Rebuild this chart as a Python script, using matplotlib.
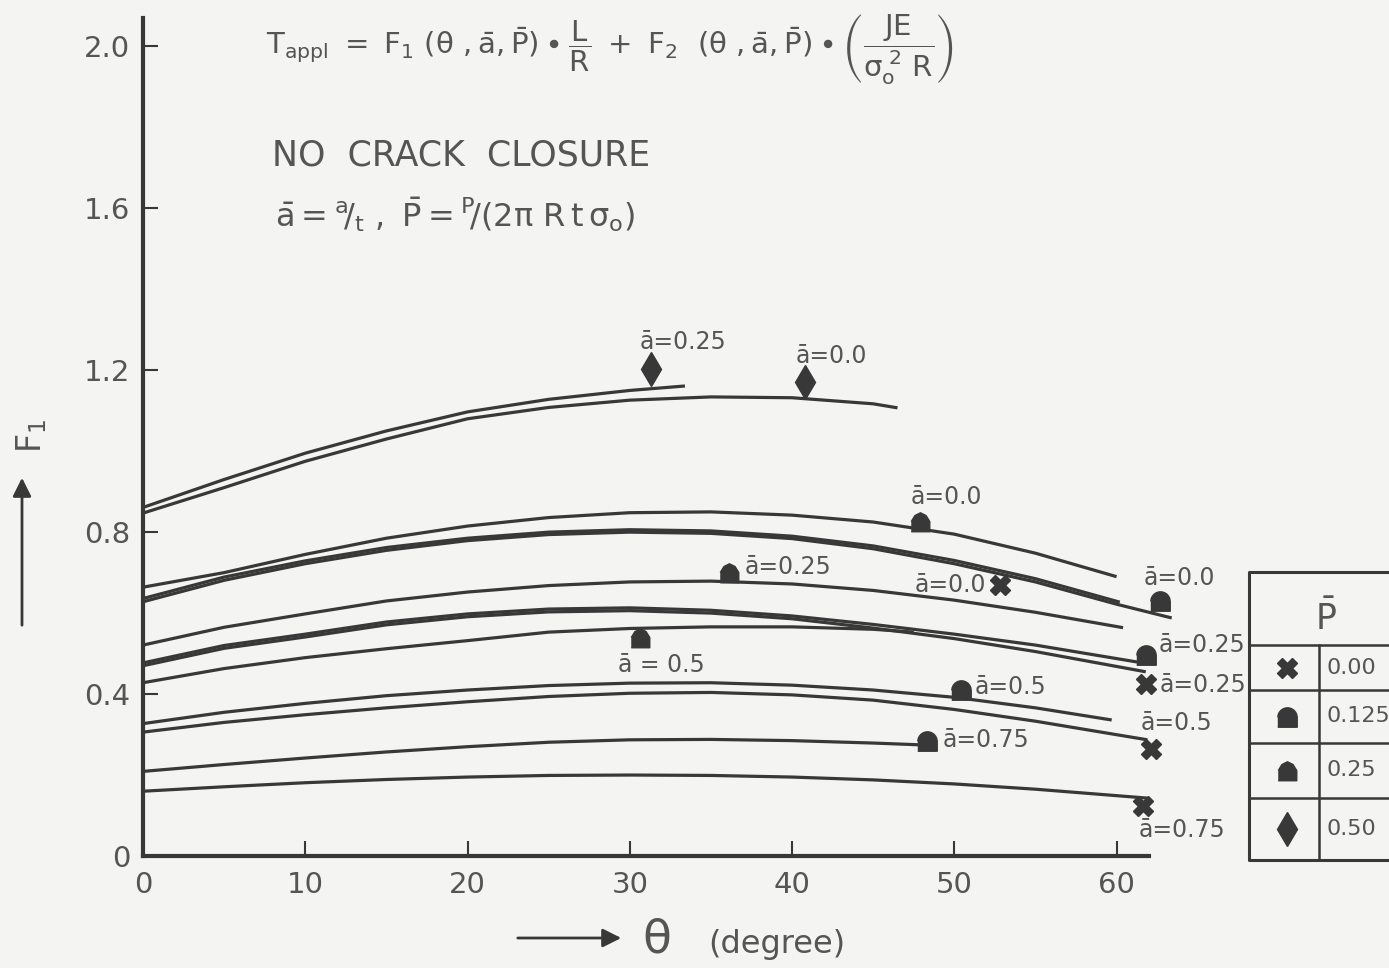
import numpy as np
import matplotlib
matplotlib.use("Agg")
import matplotlib.pyplot as plt

INK = "#383838"
TXT = "#555555"
BG = "#f4f4f2"

plt.rcParams['font.family'] = ['DejaVu Sans']
plt.rcParams['mathtext.default'] = 'regular'

# ---- curves: theta [deg] vs F1 ----
# P = 0.50
th_a25_p50 = [0, 5, 10, 15, 20, 25, 30, 33.4]
f1_a25_p50 = [0.861, 0.930, 0.995, 1.050, 1.097, 1.128, 1.150, 1.161]
th_a00_p50 = [0, 5, 10, 15, 20, 25, 30, 35, 40, 45, 46.5]
f1_a00_p50 = [0.847, 0.910, 0.975, 1.030, 1.080, 1.108, 1.126, 1.134, 1.132, 1.117, 1.107]
# P = 0.25
th_a00_p25 = [0, 5, 10, 15, 20, 25, 30, 35, 40, 45, 50, 55, 60]
f1_a00_p25 = [0.664, 0.700, 0.745, 0.785, 0.815, 0.836, 0.848, 0.850, 0.842, 0.825, 0.795, 0.748, 0.690]
th_a25_p25 = [0, 5, 10, 15, 20, 25, 30, 35, 40, 45, 50, 55, 60.4]
f1_a25_p25 = [0.521, 0.565, 0.598, 0.630, 0.652, 0.668, 0.677, 0.679, 0.672, 0.656, 0.632, 0.602, 0.564]
th_a50_p25 = [0, 5, 10, 15, 20, 25, 30, 35, 40, 45, 47.5]
f1_a50_p25 = [0.428, 0.463, 0.490, 0.512, 0.532, 0.553, 0.562, 0.566, 0.566, 0.560, 0.553]
# P = 0.125
th_a00_p125 = [0, 5, 10, 15, 20, 25, 30, 35, 40, 45, 50, 55, 60, 63.4]
f1_a00_p125 = [0.628, 0.681, 0.722, 0.755, 0.779, 0.794, 0.800, 0.797, 0.784, 0.759, 0.722, 0.677, 0.622, 0.588]
th_a25_p125 = [0, 5, 10, 15, 20, 25, 30, 35, 40, 45, 50, 55, 61.6]
f1_a25_p125 = [0.477, 0.520, 0.548, 0.578, 0.598, 0.610, 0.613, 0.607, 0.593, 0.572, 0.548, 0.521, 0.477]
th_a50_p125 = [0, 5, 10, 15, 20, 25, 30, 35, 40, 45, 50, 55, 59.7]
f1_a50_p125 = [0.327, 0.355, 0.377, 0.396, 0.410, 0.421, 0.427, 0.428, 0.422, 0.410, 0.392, 0.366, 0.336]
th_a75_p125 = [0, 5, 10, 15, 20, 25, 30, 35, 40, 45, 48.3]
f1_a75_p125 = [0.209, 0.226, 0.242, 0.257, 0.270, 0.281, 0.287, 0.288, 0.285, 0.279, 0.274]
# P = 0.00
th_a00_p00 = [0, 5, 10, 15, 20, 25, 30, 35, 40, 45, 50, 55, 60.2]
f1_a00_p00 = [0.636, 0.689, 0.729, 0.762, 0.785, 0.800, 0.806, 0.803, 0.790, 0.766, 0.730, 0.685, 0.627]
th_a25_p00 = [0, 5, 10, 15, 20, 25, 30, 35, 40, 45, 50, 55, 61.8]
f1_a25_p00 = [0.470, 0.513, 0.541, 0.571, 0.591, 0.603, 0.606, 0.600, 0.586, 0.563, 0.537, 0.505, 0.455]
th_a50_p00 = [0, 5, 10, 15, 20, 25, 30, 35, 40, 45, 50, 55, 61.9]
f1_a50_p00 = [0.306, 0.330, 0.349, 0.366, 0.381, 0.394, 0.402, 0.404, 0.398, 0.385, 0.362, 0.333, 0.287]
th_a75_p00 = [0, 5, 10, 15, 20, 25, 30, 35, 40, 45, 50, 55, 61.9]
f1_a75_p00 = [0.160, 0.171, 0.181, 0.189, 0.195, 0.199, 0.200, 0.199, 0.195, 0.188, 0.178, 0.165, 0.143]

curves = [
    (th_a25_p50, f1_a25_p50), (th_a00_p50, f1_a00_p50),
    (th_a00_p25, f1_a00_p25), (th_a25_p25, f1_a25_p25), (th_a50_p25, f1_a50_p25),
    (th_a00_p125, f1_a00_p125), (th_a25_p125, f1_a25_p125),
    (th_a50_p125, f1_a50_p125), (th_a75_p125, f1_a75_p125),
    (th_a00_p00, f1_a00_p00), (th_a25_p00, f1_a25_p00),
    (th_a50_p00, f1_a50_p00), (th_a75_p00, f1_a75_p00),
]

# ---- end-point symbols ----
dia_th = [31.3, 40.8]
dia_f1 = [1.202, 1.17]
dia_lab = ['ā=0.25', 'ā=0.0']
tri_th = [47.9, 36.1, 30.6]
tri_f1 = [0.826, 0.70, 0.539]
tri_lab = ['ā=0.0', 'ā=0.25', 'ā = 0.5']
cir_th = [62.7, 61.8, 50.4, 48.3]
cir_f1 = [0.63, 0.497, 0.41, 0.284]
cir_lab = ['ā=0.0', 'ā=0.25', 'ā=0.5', 'ā=0.75']
crs_th = [52.8, 61.8, 62.1, 61.65]
crs_f1 = [0.67, 0.425, 0.265, 0.124]
crs_lab = ['ā=0.0', 'ā=0.25', 'ā=0.5', 'ā=0.75']

p_values = ['0.00', '0.125', '0.25', '0.50']

# label offsets in pixels (dx, dy, ha)
dia_off = [(-11, 27, 'left'), (-9, 26, 'left')]
tri_off = [(-10, 25, 'left'), (16, 6, 'left'), (-22, -27, 'left')]
cir_off = [(-17, 23, 'left'), (13, 10, 'left'), (14, 3, 'left'), (16, 1, 'left')]
crs_off = [(-14, 0, 'right'), (14, -1, 'left'), (-10, 26, 'left'), (-5, -24, 'left')]

ang = np.linspace(0, np.pi, 12)
dome = [(-1, -1), (1, -1), (1, 0)] + [(np.cos(a), np.sin(a)) for a in ang] + [(-1, 0)]
house = [(-1, -1), (1, -1), (1, 0.1), (0.6, 0.75), (0, 1.05), (-0.6, 0.75), (-1, 0.1)]

W, H = 1389, 968
fig = plt.figure(figsize=(W / 100, H / 100), dpi=100, facecolor=BG)
ax = fig.add_axes([143 / W, 112 / H, (1149 - 143) / W, (950 - 112) / H])
ax.set_facecolor('none')

for th, f in curves:
    ax.plot(th, f, color=INK, lw=2.3, solid_capstyle='butt', solid_joinstyle='round', clip_on=False)

groups = [
    (dia_th, dia_f1, dia_lab, dia_off, 'd', 17),
    (tri_th, tri_f1, tri_lab, tri_off, house, 14),
    (cir_th, cir_f1, cir_lab, cir_off, dome, 14),
    (crs_th, crs_f1, crs_lab, crs_off, 'X', 14),
]
for th, f, labs, offs, mk, ms in groups:
    ax.plot(th, f, ls='none', marker=mk, ms=ms, color=INK, mec=INK, clip_on=False, zorder=4)
    for x, y, s, (dx, dy, ha) in zip(th, f, labs, offs):
        ax.annotate(s, (x, y), xytext=(dx, dy), textcoords='offset pixels',
                    ha=ha, va='center', fontsize=17, color=TXT, annotation_clip=False)

ax.set_xlim(0, 62)
ax.set_ylim(0, 2.07)
ax.set_xticks([0, 10, 20, 30, 40, 50, 60])
ax.set_yticks([0, 0.4, 0.8, 1.2, 1.6, 2.0])
ax.set_yticklabels(['0', '0.4', '0.8', '1.2', '1.6', '2.0'])
for s in ['top', 'right']:
    ax.spines[s].set_visible(False)
for s in ['left', 'bottom']:
    ax.spines[s].set_linewidth(3)
    ax.spines[s].set_color(INK)
ax.tick_params(direction='in', length=11, width=1.5, colors=INK, labelcolor=TXT, labelsize=21)
ax.tick_params(axis='y', pad=9)
ax.tick_params(axis='x', pad=11)

# overlay in image pixel coordinates for captions, arrows and the P table
ov = fig.add_axes([0, 0, 1, 1], zorder=5)
ov.set_xlim(0, W)
ov.set_ylim(H, 0)
ov.axis('off')

ov.text(266, 50, r'$T_{appl}\ =\ F_{1}\ (\theta\ ,\bar{a},\bar{P})\bullet\dfrac{L}{R}\ +\ F_{2}\ \ (\theta\ ,\bar{a},\bar{P})\bullet\left(\dfrac{JE}{\sigma_{o}^{\ 2}\ R}\right)$',
        fontsize=21, color=TXT, ha='left', va='center')
ov.text(272, 155, 'NO  CRACK  CLOSURE', fontsize=25, color=TXT, ha='left', va='center')
ov.text(275, 215, r'$\bar{a}={}^{a}\!/_{t}\ ,\ \bar{P}={}^{P}\!/(2\pi\ R\,t\,\sigma_{o})$',
        fontsize=23, color=TXT, ha='left', va='center')

ov.annotate('', xy=(624, 938), xytext=(515, 938),
            arrowprops=dict(arrowstyle='-|>', lw=2, color=INK, mutation_scale=28))
ov.text(656, 940, r'$\theta$', fontsize=34, color=TXT, ha='center', va='center')
ov.text(708, 945, '(degree)', fontsize=23, color=TXT, ha='left', va='center')

ov.annotate('', xy=(22, 475), xytext=(22, 628),
            arrowprops=dict(arrowstyle='-|>', lw=2, color=INK, mutation_scale=28))
ov.text(32, 436, r'$F_{1}$', fontsize=24, color=TXT, rotation=90, ha='center', va='center')

# P table
tl, tr, tt, tb, tc = 1249, 1400, 572, 860, 1319
rows = [645, 690, 743, 798]
ov.plot([tr, tl, tl, tr], [tt, tt, tb, tb], color=INK, lw=2.2, clip_on=False)
for r in rows:
    ov.plot([tl, tr], [r, r], color=INK, lw=1.8, clip_on=False)
ov.plot([tc, tc], [rows[0], tb], color=INK, lw=1.8)
ov.text(1326, 618, r'$\bar{P}$', fontsize=25, color=TXT, ha='center', va='center')
edges = rows + [tb]
marks = [('X', 14), (dome, 14), (house, 14), ('d', 17)]
for i, (mk, ms) in enumerate(marks):
    yc = (edges[i] + edges[i + 1]) / 2
    ov.plot([1287], [yc], marker=mk, ms=ms, color=INK, ls='none')
    ov.text(1327, yc, p_values[i], fontsize=16, color=TXT, ha='left', va='center')

fig.savefig('out.png', dpi=100, facecolor=BG)
